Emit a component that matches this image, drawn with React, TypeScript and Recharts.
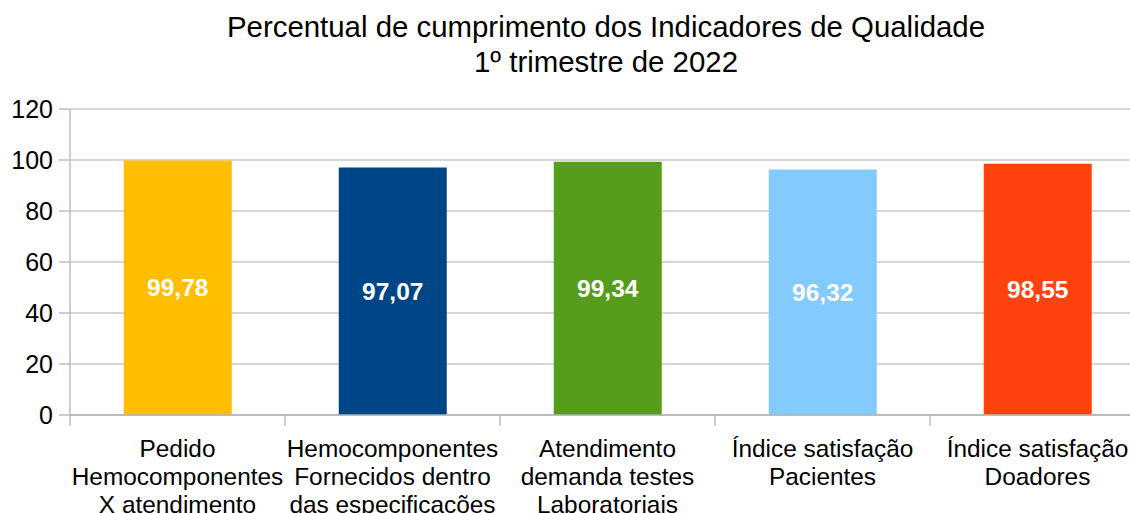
import { BarChart, Bar, XAxis, YAxis, CartesianGrid, LabelList, Cell } from "recharts";

const categories = [
  "Pedido\nHemocomponentes\nX atendimento",
  "Hemocomponentes\nFornecidos dentro\ndas especificações",
  "Atendimento\ndemanda testes\nLaboratoriais",
  "Índice satisfação\nPacientes",
  "Índice satisfação\nDoadores",
];
const values = [99.78, 97.07, 99.34, 96.32, 98.55];
const barColors = ["#ffbf00", "#004586", "#579d1c", "#83caff", "#ff420e"];
const yTicks = [0, 20, 40, 60, 80, 100, 120];
const titleLines = [
  "Percentual de cumprimento dos Indicadores de Qualidade",
  "1º trimestre de 2022",
];

const data = categories.map((name, i) => ({ name, value: values[i] }));

const FONT = "'Liberation Sans', Arial, sans-serif";
const CHART_W = 1160;
const Y_W = 70;
const RIGHT = 15;
const AXIS_GRAY = "#b3b3b3";

// multi-line category label, tick marks drawn at band edges (like LibreOffice)
function CategoryTick(props: any) {
  const { x, y, payload, index } = props;
  const band = (CHART_W - Y_W - RIGHT) / categories.length;
  const lines = String(payload.value).split("\n");
  const left = x - band / 2;
  return (
    <g>
      <line x1={left} x2={left} y1={y - 13} y2={y - 2} stroke={AXIS_GRAY} strokeWidth={1.3} />
      {index === categories.length - 1 && (
        <line x1={left + band} x2={left + band} y1={y - 13} y2={y - 2} stroke={AXIS_GRAY} strokeWidth={1.3} />
      )}
      <text x={x} y={y} textAnchor="middle" fill="#000" fontSize={24.4} fontFamily={FONT}>
        {lines.map((l, i) => (
          <tspan key={i} x={x} dy={i === 0 ? 29 : 28}>
            {l}
          </tspan>
        ))}
      </text>
    </g>
  );
}

export default function App() {
  return (
    <div
      style={{
        position: "absolute",
        left: 0,
        top: 0,
        width: 1130,
        height: 513,
        overflow: "hidden",
        background: "#fff",
      }}
    >
      <svg width={1130} height={90} style={{ position: "absolute", left: 0, top: 0 }}>
        {titleLines.map((t, i) => (
          <text
            key={i}
            x={606}
            y={37 + i * 34.5}
            textAnchor="middle"
            fontSize={29.4}
            fontFamily={FONT}
            fill="#000"
          >
            {t}
          </text>
        ))}
      </svg>
      <div style={{ position: "absolute", left: 0, top: 0 }}>
        <BarChart
          width={CHART_W}
          height={513}
          data={data}
          margin={{ top: 109, right: RIGHT, left: 0, bottom: 0 }}
          barCategoryGap="25%"
        >
          <CartesianGrid vertical={false} stroke="#c8c8c8" strokeWidth={1.3} />
          <XAxis
            dataKey="name"
            height={98}
            interval={0}
            tick={<CategoryTick />}
            tickLine={false}
            tickSize={11}
            tickMargin={2}
            stroke={AXIS_GRAY}
            strokeWidth={1.3}
          />
          <YAxis
            domain={[0, 120]}
            ticks={yTicks}
            width={Y_W}
            tickSize={11}
            tickMargin={6}
            stroke={AXIS_GRAY}
            strokeWidth={1.3}
            tick={{ fill: "#000", fontSize: 25, fontFamily: FONT }}
          />
          <Bar dataKey="value" isAnimationActive={false}>
            {data.map((_, i) => (
              <Cell key={i} fill={barColors[i]} />
            ))}
            <LabelList
              dataKey="value"
              position="center"
              fill="#fff"
              fontSize={24.5}
              fontWeight="bold"
              fontFamily={FONT}
              formatter={(v: any) => Number(v).toFixed(2).replace(".", ",")}
            />
          </Bar>
        </BarChart>
      </div>
    </div>
  );
}
